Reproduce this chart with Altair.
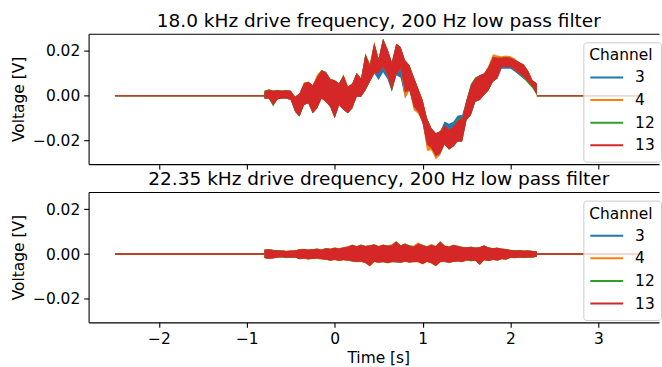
import altair as alt
import pandas as pd

CHANNELS = ["3", "4", "12", "13"]
COLORS = ["#1f77b4", "#ff7f0e", "#2ca02c", "#d62728"]

TITLE_TOP = "18.0 kHz drive frequency, 200 Hz low pass filter"
TITLE_BOTTOM = "22.35 kHz drive drequency, 200 Hz low pass filter"
X_TICKS = [-2, -1, 0, 1, 2, 3]
Y_TICKS = [-0.02, 0.0, 0.02]

# time grid of the active part of the recording (s)
T = [round(-0.80 + 0.05 * i, 2) for i in range(63)]
# idle parts of the recording, signal is 0 V
FLAT_SEGMENTS = [(-2.5, -0.8), (2.3, 3.5)]

# ---- top panel: envelope (max / min) of each channel, mV ----
top_hi = {
    "13": [1.8, 2.8, 2.2, 2.5, 2.2, 2.5, 2.2, -0.4, 1.0, 5.5, 6.2, 4.7, 8.4, 11.4, 10.6, 7.5, 6.9, 5.5, 9.1, 4.0, 5.5, 10.2, 7.7, 18.7, 13.6, 23.5, 16.5, 25.4, 20.9, 15.0, 23.2, 21.7, 15.8, 13.6, 8.4, 3.2, -1.9, -10.0, -14.5, -16.7, -15.9, -13.0, -15.2, -13.7, -11.1, -10.0, -1.9, 4.7, 7.7, 9.1, 9.9, 12.8, 17.3, 17.0, 17.0, 17.3, 17.0, 16.1, 15.0, 14.0, 11.1, 6.9, 5.5],
    "4": [1.8, 2.8, 2.2, 2.5, 2.2, 2.5, 2.2, -0.4, 1.0, 6.0, 6.2, 4.7, 9.5, 11.4, 10.6, 7.5, 6.9, 5.5, 9.6, 4.0, 5.5, 10.2, 7.7, 18.7, 14.5, 24.2, 16.5, 25.4, 20.9, 15.0, 23.2, 21.7, 15.8, 13.6, 8.4, 3.2, -1.9, -10.0, -14.5, -16.7, -15.9, -13.0, -15.2, -13.7, -11.1, -10.0, -1.9, 4.7, 7.7, 9.1, 9.9, 13.5, 18.5, 18.0, 17.6, 18.0, 17.6, 16.6, 15.0, 14.0, 11.1, 6.9, 5.5],
    "3": [1.8, 2.8, 2.2, 2.5, 2.2, 2.5, 2.2, -0.4, 1.0, 5.5, 6.2, 4.7, 8.4, 11.4, 10.6, 7.5, 6.9, 5.5, 9.1, 4.0, 5.5, 10.2, 7.7, 18.7, 13.6, 23.5, 16.5, 25.4, 20.9, 15.0, 23.2, 21.7, 15.8, 13.6, 8.4, 3.2, -1.9, -10.0, -14.5, -16.7, -15.9, -11.5, -12.5, -11.6, -8.8, -8.6, -1.9, 4.7, 7.7, 9.1, 9.9, 12.8, 17.3, 17.0, 17.0, 17.3, 17.0, 16.1, 15.0, 14.0, 11.1, 6.9, 5.5],
    "12": [2.3, 2.8, 2.2, 2.5, 2.2, 2.5, 2.2, -0.4, 1.0, 5.5, 6.2, 4.7, 8.4, 11.4, 10.6, 7.5, 6.9, 5.5, 9.1, 4.0, 5.5, 10.2, 7.7, 18.7, 13.6, 23.5, 16.5, 25.4, 20.9, 15.0, 23.2, 21.7, 15.8, 13.6, 8.4, 3.2, -1.9, -10.0, -14.5, -16.7, -15.9, -13.0, -15.2, -13.7, -10.3, -10.0, -1.9, 5.3, 8.3, 9.1, 9.9, 12.8, 17.3, 17.0, 17.0, 17.3, 17.0, 16.1, 15.0, 14.0, 11.1, 6.9, 5.5],
}
top_lo = {
    "13": [-1.2, -1.2, -4.1, -1.6, -1.2, -1.2, -1.9, -7.1, -9.3, -4.1, -3.4, -7.8, -5.6, -1.2, -2.7, -5.0, -10.0, -4.1, -6.3, -7.8, -5.6, -0.4, -0.4, 2.5, 6.2, 9.9, 10.2, 12.8, 9.1, 2.5, 9.1, 12.1, 1.5, 2.5, -4.9, -7.1, -12.2, -21.8, -23.3, -27.0, -25.5, -21.8, -24.0, -22.6, -20.4, -20.4, -10.8, -8.6, -2.7, -1.9, 0.3, 2.5, 6.2, 7.7, 12.8, 12.8, 12.8, 11.4, 9.9, 8.4, 6.2, 4.0, 0.3],
    "4": [-1.2, -1.2, -4.3, -1.6, -1.2, -1.2, -1.9, -7.1, -9.3, -4.1, -3.4, -7.8, -5.6, -1.2, -2.7, -5.0, -10.0, -4.1, -6.3, -7.8, -5.6, -0.4, -0.4, 2.5, 6.2, 9.9, 10.2, 12.8, 9.1, 2.5, 9.1, 12.1, -1.5, 2.5, -6.5, -8.0, -12.2, -24.5, -24.3, -28.3, -26.5, -21.8, -24.0, -22.6, -20.4, -20.4, -10.8, -8.6, -2.7, -1.9, 0.3, 2.5, 6.2, 7.7, 12.8, 12.8, 12.8, 11.4, 9.9, 8.4, 6.2, 4.0, 0.3],
    "3": [-1.2, -1.2, -4.1, -1.6, -1.2, -1.2, -1.9, -7.1, -9.3, -4.1, -3.4, -7.8, -5.6, -1.2, -2.7, -5.0, -10.0, -4.1, -6.3, -7.8, -5.6, -0.4, -0.4, 2.5, 6.2, 9.9, 7.0, 10.5, 7.5, 1.8, 9.1, 8.0, -1.0, 2.5, -4.9, -7.1, -12.2, -21.8, -23.3, -27.0, -25.5, -21.8, -24.0, -22.6, -20.4, -20.4, -10.8, -8.6, -2.7, -1.9, 0.3, 2.5, 6.2, 7.7, 12.1, 12.0, 12.1, 10.7, 9.1, 7.5, 6.2, 4.0, 0.3],
    "12": [-1.2, -1.2, -4.8, -1.6, -1.2, -1.2, -1.9, -7.1, -9.3, -4.1, -3.4, -7.8, -5.6, -1.2, -2.7, -5.0, -10.0, -4.1, -6.3, -7.8, -5.6, -0.4, -0.4, 2.5, 6.2, 9.9, 10.2, 12.8, 9.1, 1.9, 9.1, 12.1, 1.5, 2.5, -4.9, -7.1, -12.2, -21.8, -23.3, -27.0, -26.0, -21.8, -24.0, -22.6, -20.4, -20.4, -10.8, -8.6, -2.7, -1.9, 0.3, 2.5, 6.2, 7.7, 12.8, 12.8, 12.8, 11.4, 9.9, 7.8, 5.5, 3.3, 0.3],
}

# ---- bottom panel: envelope of each channel, mV ----
bot_hi = {
    "13": [1.9, 2.1, 1.8, 1.5, 1.6, 1.4, 1.5, 1.6, 2.0, 2.2, 1.9, 2.1, 2.4, 1.9, 2.6, 2.3, 2.8, 2.5, 2.9, 3.3, 4.0, 3.5, 3.9, 3.6, 3.8, 4.2, 3.5, 4.1, 3.7, 3.9, 5.6, 3.8, 4.6, 3.6, 3.4, 4.6, 3.9, 3.4, 4.0, 3.5, 5.6, 3.7, 3.3, 4.0, 3.5, 3.1, 2.9, 3.2, 2.7, 3.0, 3.8, 2.9, 2.6, 2.8, 2.4, 2.2, 1.8, 1.6, 1.7, 1.5, 1.6, 1.4, 1.2],
    "4": [2.0, 2.3, 1.9, 1.7, 1.6, 1.5, 1.8, 1.6, 2.2, 2.4, 2.0, 2.1, 2.6, 2.0, 2.7, 2.6, 2.9, 2.7, 3.0, 3.6, 4.1, 3.6, 4.2, 3.7, 3.9, 4.5, 3.6, 4.2, 3.8, 4.4, 5.7, 3.9, 4.8, 3.7, 3.8, 5.3, 4.0, 3.6, 4.6, 3.6, 5.7, 3.9, 3.4, 4.3, 3.6, 3.2, 3.1, 3.3, 2.8, 3.1, 3.9, 3.0, 2.7, 2.9, 2.5, 2.3, 1.9, 1.7, 1.8, 1.6, 1.7, 1.5, 1.2],
    "3": [1.9, 2.1, 1.8, 1.5, 1.6, 1.4, 1.5, 1.6, 2.3, 2.2, 1.9, 2.1, 2.4, 1.9, 2.6, 2.3, 2.8, 2.5, 2.9, 3.3, 4.2, 3.5, 3.9, 3.6, 3.8, 4.2, 3.5, 4.1, 3.7, 3.9, 5.6, 3.8, 4.6, 3.6, 3.4, 4.6, 4.3, 3.4, 4.0, 3.5, 5.6, 3.7, 3.3, 4.0, 3.8, 3.1, 2.9, 3.2, 2.7, 3.0, 3.8, 2.9, 2.6, 2.8, 2.4, 2.2, 1.8, 1.6, 1.7, 1.5, 1.6, 1.4, 1.2],
    "12": [1.9, 2.1, 1.8, 1.8, 1.6, 1.4, 1.5, 1.6, 2.0, 2.2, 1.9, 2.1, 2.4, 1.9, 2.6, 2.3, 2.8, 2.5, 2.9, 3.3, 4.0, 3.5, 4.3, 3.6, 3.8, 4.2, 3.5, 4.1, 3.7, 3.9, 5.6, 3.8, 4.6, 4.0, 3.4, 4.6, 3.9, 3.4, 4.0, 3.5, 5.6, 3.7, 3.3, 4.0, 3.5, 3.1, 2.9, 3.2, 3.0, 3.0, 3.8, 2.9, 2.6, 2.8, 2.4, 2.2, 1.8, 1.6, 1.7, 1.5, 1.6, 1.4, 1.2],
}
bot_lo = {
    "13": [-1.8, -2.1, -1.9, -1.5, -1.4, -1.6, -1.7, -1.5, -2.2, -2.0, -2.3, -2.1, -2.0, -2.2, -2.5, -2.9, -2.6, -3.0, -2.7, -2.9, -3.2, -3.6, -3.3, -4.0, -5.3, -3.5, -3.8, -3.4, -4.0, -3.6, -3.5, -3.9, -3.3, -3.8, -3.4, -3.6, -4.5, -3.5, -4.0, -5.3, -3.6, -3.3, -3.9, -3.5, -3.2, -3.6, -2.8, -3.0, -2.9, -4.8, -2.7, -3.1, -2.6, -2.9, -2.2, -2.4, -1.7, -1.8, -1.6, -1.7, -1.5, -1.6, -1.2],
    "4": [-1.9, -2.2, -2.1, -1.6, -1.5, -1.8, -1.8, -1.6, -2.4, -2.1, -2.5, -2.2, -2.2, -2.5, -2.6, -3.1, -2.8, -3.1, -2.9, -3.0, -3.5, -3.7, -3.6, -4.1, -5.6, -3.6, -4.1, -3.6, -4.2, -3.8, -3.6, -4.0, -3.5, -3.9, -3.8, -3.7, -4.7, -3.6, -4.3, -5.5, -3.8, -3.4, -4.1, -3.6, -3.4, -3.7, -3.0, -3.1, -3.0, -4.9, -2.9, -3.2, -2.7, -3.0, -2.4, -2.5, -1.8, -1.9, -1.7, -1.8, -1.6, -1.7, -1.2],
    "3": [-1.8, -2.1, -1.9, -1.5, -1.4, -1.6, -1.7, -1.5, -2.2, -2.0, -2.3, -2.1, -2.0, -2.2, -2.5, -2.9, -2.6, -3.0, -2.7, -2.9, -3.2, -3.6, -3.3, -4.0, -5.3, -3.5, -3.8, -3.4, -4.0, -3.6, -3.9, -3.9, -3.3, -3.8, -3.4, -3.6, -4.5, -3.5, -4.0, -5.3, -3.6, -3.7, -3.9, -3.5, -3.2, -3.6, -2.8, -3.0, -2.9, -4.8, -2.7, -3.1, -2.6, -2.9, -2.2, -2.4, -1.7, -1.8, -1.6, -1.7, -1.5, -1.6, -1.2],
    "12": [-1.8, -2.1, -1.9, -1.5, -1.4, -1.9, -1.7, -1.5, -2.2, -2.0, -2.3, -2.1, -2.0, -2.2, -2.5, -2.9, -2.6, -3.0, -2.7, -2.9, -3.2, -3.6, -3.3, -4.0, -5.3, -3.5, -3.8, -3.8, -4.0, -3.6, -3.5, -3.9, -3.3, -3.8, -3.4, -3.6, -4.5, -3.5, -4.0, -5.3, -3.6, -3.3, -3.9, -3.5, -3.2, -3.6, -2.8, -3.3, -2.9, -4.8, -2.7, -3.1, -2.6, -2.9, -2.2, -2.4, -1.7, -1.8, -1.6, -1.7, -1.5, -1.6, -1.2],
}

for d in (top_hi, top_lo, bot_hi, bot_lo):
    for ch in CHANNELS:
        assert len(d[ch]) == len(T), (ch, len(d[ch]))

FONT = "DejaVu Sans"
X_DOMAIN = [-2.8, 3.69]
Y_DOMAIN = [-0.0305, 0.0277]
W, H = 573, 131

color_scale = alt.Scale(domain=CHANNELS, range=COLORS)
x_scale = alt.Scale(domain=X_DOMAIN, nice=False, zero=False)
y_scale = alt.Scale(domain=Y_DOMAIN, nice=False, zero=False)


def band_df(hi, lo, ch):
    return pd.DataFrame({"Time": T, "hi": [v / 1000 for v in hi[ch]],
                         "lo": [v / 1000 for v in lo[ch]], "Channel": ch})


def flat_df():
    rows = []
    for ch in CHANNELS:
        for k, (a, b) in enumerate(FLAT_SEGMENTS):
            for t in (a, b):
                rows.append({"Time": t, "V": 0.0, "Channel": ch, "seg": f"{ch}-{k}"})
    return pd.DataFrame(rows)


def panel(hi, lo, title, bottom, flat_opacity):
    xaxis = alt.Axis(values=X_TICKS, labels=bottom, title="Time [s]" if bottom else None,
                     titleX=291, titlePadding=4, orient="bottom",
                     titleFontWeight="normal", titleFont=FONT, titleFontSize=15.5,
                     titleColor="black")
    # top spine carries the panel title
    top_spine = alt.Axis(orient="top", labels=False, ticks=False, title=title, domain=True,
                         titleFontSize=18.6, titleFontWeight="normal", titleFont=FONT,
                         titleBaseline="alphabetic", titlePadding=7,
                         titleX=291, titleAlign="center")
    yaxis = alt.Axis(values=Y_TICKS, format=".2f", title="Voltage [V]", titlePadding=6,
                     titleFontWeight="normal")

    legend = alt.Legend(
        orient="none", legendX=497, legendY=8.7, title="Channel",
        symbolType="stroke", symbolSize=1089, symbolStrokeWidth=2, clipHeight=20,
        symbolOpacity=1,
        rowPadding=2.7, titlePadding=3.8, labelOffset=11, padding=6,
        fillColor="rgba(255,255,255,0.8)", strokeColor="#cccccc", cornerRadius=3,
        titleFont=FONT, titleFontSize=15.5, titleFontWeight="normal", titleColor="black",
        labelFont=FONT, labelFontSize=15.5, labelColor="black",
    )
    flat = alt.Chart(flat_df()).mark_line(strokeWidth=1.6, clip=True, opacity=flat_opacity).encode(
        x=alt.X("Time:Q", scale=x_scale, axis=xaxis),
        y=alt.Y("V:Q", scale=y_scale, axis=yaxis),
        color=alt.Color("Channel:N", scale=color_scale, sort=CHANNELS, legend=legend),
        detail="seg:N",
    )
    layers = [flat]
    for i, ch in enumerate(CHANNELS):
        layers.append(
            alt.Chart(band_df(hi, lo, ch)).mark_area(clip=True, interpolate="linear").encode(
                x=alt.X("Time:Q", scale=x_scale, axis=top_spine if i == 0 else None),
                y=alt.Y("hi:Q", scale=y_scale, axis=yaxis), y2="lo:Q",
                color=alt.Color("Channel:N", scale=color_scale, sort=CHANNELS, legend=None),
            )
        )
    return alt.layer(*layers).resolve_axis(x="independent").properties(width=W, height=H)


top = panel(top_hi, top_lo, TITLE_TOP, False, 0.75)
bottom = panel(bot_hi, bot_lo, TITLE_BOTTOM, True, 1.0)

chart = (
    alt.vconcat(top, bottom, spacing=0)
    .resolve_legend(color="independent")
    .properties(padding={"left": 11, "top": 11, "right": 0, "bottom": 0})
    .configure_view(stroke=None)
    .configure_axis(
        labelFont=FONT, labelFontSize=15.5, labelColor="black", labelPadding=4,
        titleFont=FONT, titleFontSize=15.5, titleFontWeight="normal", titleColor="black",
        tickColor="black", tickWidth=1.1, tickSize=4.9, domainColor="black", domainWidth=1.1,
        grid=False,
    )
)

chart.save("out.html", embed_options={"renderer": "svg", "actions": False})
